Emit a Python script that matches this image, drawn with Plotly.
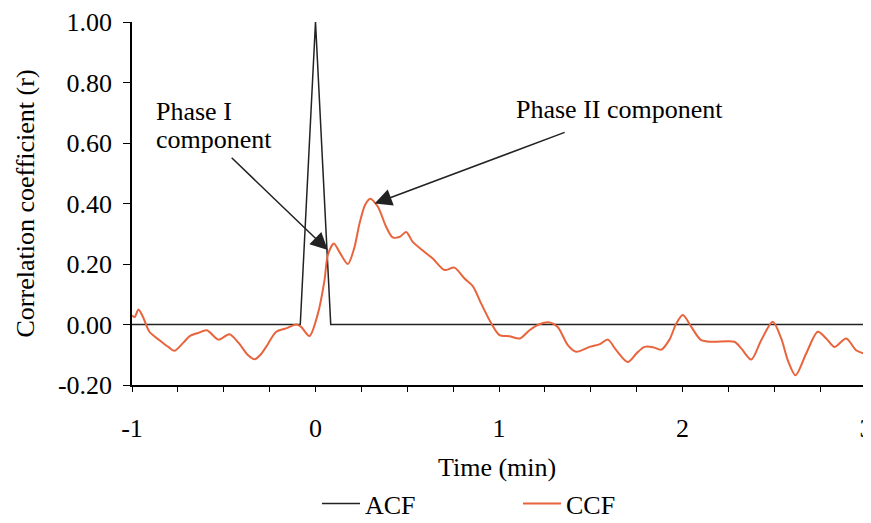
import plotly.graph_objects as go

# ACF series
acf_x = [-1.0, -0.083, 0.0, 0.083, 3.0]
acf_y = [0.0, 0.0, 1.0, 0.0, 0.0]

# CCF series
ccf_x = [-1.0, -0.985, -0.965, -0.94, -0.905, -0.85, -0.80, -0.768, -0.72, -0.687,
         -0.64, -0.592, -0.529, -0.469, -0.42, -0.37, -0.332, -0.30, -0.269, -0.214,
         -0.16, -0.105, -0.078, -0.033, 0.013, 0.049, 0.067, 0.1, 0.13, 0.176,
         0.21, 0.24, 0.27, 0.298, 0.34, 0.385, 0.421, 0.46, 0.494, 0.53,
         0.594, 0.639, 0.703, 0.757, 0.812, 0.857, 0.903, 0.957, 1.003, 1.057,
         1.115, 1.166, 1.22, 1.275, 1.32, 1.375, 1.42, 1.493, 1.55, 1.593,
         1.639, 1.702, 1.75, 1.793, 1.84, 1.884, 1.929, 1.966, 2.002, 2.048,
         2.102, 2.166, 2.283, 2.32, 2.374, 2.429, 2.492, 2.538, 2.575, 2.616,
         2.674, 2.737, 2.783, 2.828, 2.892, 2.946, 3.0]
ccf_y = [0.03, 0.025, 0.05, 0.025, -0.024, -0.052, -0.075, -0.087, -0.06, -0.039,
         -0.028, -0.019, -0.05, -0.032, -0.06, -0.1, -0.115, -0.1, -0.074, -0.024,
         -0.013, 0.0, -0.008, -0.038, 0.036, 0.146, 0.229, 0.268, 0.24, 0.2,
         0.25, 0.334, 0.395, 0.416, 0.389, 0.323, 0.288, 0.29, 0.306, 0.273,
         0.24, 0.218, 0.18, 0.188, 0.152, 0.127, 0.069, 0.005, -0.035, -0.039,
         -0.046, -0.019, 0.001, 0.007, -0.008, -0.068, -0.09, -0.074, -0.065, -0.05,
         -0.085, -0.124, -0.095, -0.074, -0.075, -0.083, -0.05, 0.003, 0.031, -0.008,
         -0.052, -0.057, -0.057, -0.079, -0.116, -0.052, 0.009, -0.046, -0.12, -0.168,
         -0.096, -0.024, -0.046, -0.074, -0.046, -0.085, -0.098]

x_tickvals = [-1, 0, 1, 2, 3]
x_ticktext = ["-1", "0", "1", "2", "3"]
y_tickvals = [-0.2, 0.0, 0.2, 0.4, 0.6, 0.8, 1.0]
y_ticktext = ["-0.20", "0.00", "0.20", "0.40", "0.60", "0.80", "1.00"]

FONT = "Liberation Serif, Times New Roman, serif"
FS = 26

fig = go.Figure()
fig.add_trace(go.Scatter(x=acf_x, y=acf_y, mode="lines", name="ACF",
                         line=dict(color="#222222", width=1.5)))
fig.add_trace(go.Scatter(x=ccf_x, y=ccf_y, mode="lines", name="CCF",
                         line=dict(color="#e8643c", width=2, shape="spline", smoothing=0.8)))

# Annotations
fig.add_annotation(x=0.067, y=0.246, ax=-0.465, ay=0.556, axref="x", ayref="y",
                   xref="x", yref="y", text="", showarrow=True, arrowhead=2,
                   arrowsize=2.3, arrowwidth=1.5, arrowcolor="#222222")
fig.add_annotation(x=0.322, y=0.40, ax=1.366, ay=0.637, axref="x", ayref="y",
                   xref="x", yref="y", text="", showarrow=True, arrowhead=2,
                   arrowsize=2.3, arrowwidth=1.5, arrowcolor="#222222")
fig.add_annotation(x=-0.88, y=0.705, xref="x", yref="y", text="Phase I",
                   showarrow=False, xanchor="left", yanchor="middle",
                   font=dict(family=FONT, size=FS, color="black"))
fig.add_annotation(x=-0.88, y=0.612, xref="x", yref="y", text="component",
                   showarrow=False, xanchor="left", yanchor="middle",
                   font=dict(family=FONT, size=FS, color="black"))
fig.add_annotation(x=1.657, y=0.71, xref="x", yref="y", text="Phase II component",
                   showarrow=False, xanchor="center", yanchor="middle",
                   font=dict(family=FONT, size=FS, color="black"))
# x-axis title
fig.add_annotation(x=0.497, y=-0.226, xref="paper", yref="paper", text="Time (min)",
                   showarrow=False, xanchor="center", yanchor="middle",
                   font=dict(family=FONT, size=FS, color="black"))

fig.update_layout(
    width=863, height=519,
    margin=dict(l=124, r=5, t=14, b=142),
    paper_bgcolor="white", plot_bgcolor="white",
    font=dict(family=FONT, size=FS, color="black"),
    showlegend=True,
    legend=dict(orientation="h", x=0.252, xanchor="left", y=0.0, yanchor="bottom",
                yref="container", itemwidth=38,
                font=dict(family=FONT, size=FS), entrywidth=148, entrywidthmode="pixels",
                bgcolor="rgba(0,0,0,0)"),
)
fig.update_xaxes(range=[-1, 3], tickvals=x_tickvals, ticktext=x_ticktext,
                 automargin=False, ticklabeloverflow="allow",
                 showgrid=False, zeroline=False, showline=True, linecolor="black",
                 linewidth=1.5, ticks="outside", ticklen=5, tickcolor="black",
                 ticklabelstandoff=14,
                 minor=dict(dtick=0.25, ticks="outside", ticklen=5, tickcolor="black", showgrid=False))
fig.update_yaxes(range=[-0.2, 1.0], tickvals=y_tickvals, ticktext=y_ticktext,
                 automargin=False,
                 showgrid=False, zeroline=False, showline=True, linecolor="black",
                 linewidth=1.5, ticks="outside", ticklen=7, tickcolor="black",
                 ticklabelstandoff=6,
                 title=dict(text="Correlation coefficient (r)", standoff=16,
                            font=dict(family=FONT, size=FS)))

fig.write_html("out.html")
